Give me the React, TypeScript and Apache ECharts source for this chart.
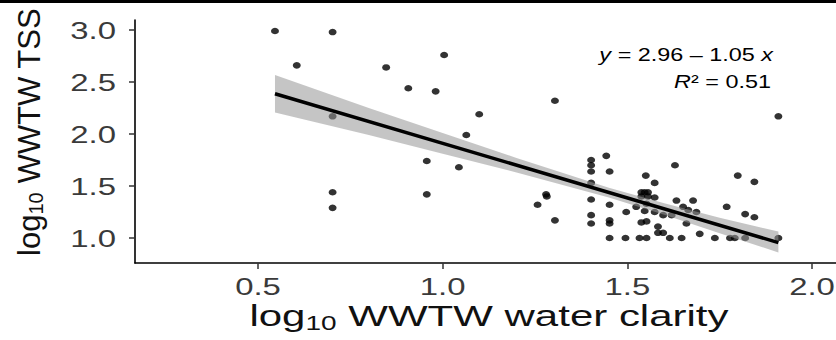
import React, { useEffect, useRef } from "react";
import * as echarts from "echarts";

// Observed points: [log10 water clarity, log10 TSS]
const pointsX = [
  0.546, 0.702, 0.605, 0.847, 1.004, 0.907, 0.981, 1.099, 1.064, 0.702, 0.957, 1.044, 0.702, 0.957, 0.702,
  1.304, 1.909,
  1.402, 1.402, 1.402, 1.443, 1.452, 1.629,
  1.402, 1.280, 1.282, 1.257, 1.304,
  1.402, 1.402, 1.402,
  1.452, 1.452, 1.452, 1.452,
  1.495, 1.497, 1.533, 1.552,
  1.550, 1.574,
  1.538, 1.547, 1.556, 1.538, 1.556, 1.574,
  1.524, 1.552, 1.547, 1.574, 1.597, 1.620,
  1.538, 1.552, 1.583, 1.583, 1.597,
  1.615, 1.647, 1.633, 1.678, 1.651, 1.665, 1.687,
  1.660, 1.696, 1.737, 1.769, 1.778, 1.791, 1.819,
  1.799, 1.844, 1.819, 1.844, 1.909,
];
const pointsY = [
  2.99, 2.98, 2.66, 2.64, 2.76, 2.44, 2.41, 2.19, 1.99, 2.17, 1.74, 1.68, 1.44, 1.42, 1.29,
  2.32, 2.17,
  1.75, 1.70, 1.64, 1.79, 1.64, 1.70,
  1.53, 1.42, 1.40, 1.32, 1.17,
  1.37, 1.22, 1.14,
  1.32, 1.17, 1.14, 1.00,
  1.00, 1.25, 1.00, 1.00,
  1.60, 1.53,
  1.44, 1.44, 1.44, 1.40, 1.40, 1.39,
  1.30, 1.33, 1.26, 1.25, 1.22, 1.22,
  1.15, 1.16, 1.11, 1.05, 1.05,
  1.00, 1.00, 1.36, 1.36, 1.30, 1.27, 1.25,
  1.14, 1.04, 1.00, 1.30, 1.00, 1.00, 1.00,
  1.60, 1.54, 1.23, 1.20, 1.00,
];

// Fitted line (y = 2.96 - 1.05 x) end points
const fitX = [0.546, 1.909];
const fitY = [2.387, 0.956];

// Confidence band
const bandX = [0.546, 0.8, 1.0, 1.2, 1.45, 1.6, 1.75, 1.909];
const bandUpper = [2.567, 2.25, 2.01, 1.77, 1.484, 1.335, 1.195, 1.062];
const bandLower = [2.207, 1.99, 1.81, 1.63, 1.39, 1.225, 1.045, 0.862];

const xTicks = [0.5, 1.0, 1.5, 2.0];
const xTickLabels = ["0.5", "1.0", "1.5", "2.0"];
const yTicks = [1.0, 1.5, 2.0, 2.5, 3.0];
const yTickLabels = ["1.0", "1.5", "2.0", "2.5", "3.0"];

const xMin = 0.167;
const xMax = 2.065;
const yMin = 0.76;
const yMax = 3.096;

const FONT = "'Liberation Sans', Arial, Helvetica, sans-serif";
const LABEL_COLOR = "#3a3a3a";

export default function App() {
  const ref = useRef<HTMLDivElement>(null);

  useEffect(() => {
    if (!ref.current) return;
    const chart = echarts.init(ref.current, undefined, { renderer: "svg" });
    const scatterData = pointsX.map((x, i) => [x, pointsY[i]]);
    const fitData = fitX.map((x, i) => [x, fitY[i]]);

    chart.setOption({
      animation: false,
      backgroundColor: "#ffffff",
      grid: { left: 135, right: 0, top: 20, bottom: 77 },
      xAxis: {
        type: "value",
        min: xMin,
        max: xMax,
        axisLine: { onZero: false, lineStyle: { color: "#000", width: 1.6 } },
        axisTick: { customValues: xTicks, length: 6, lineStyle: { color: "#333", width: 1.5 } },
        axisLabel: { show: false },
        splitLine: { show: false },
      },
      yAxis: {
        type: "value",
        min: yMin,
        max: yMax,
        axisLine: { onZero: false, lineStyle: { color: "#000", width: 1.6 } },
        axisTick: { customValues: yTicks, length: 6, lineStyle: { color: "#333", width: 1.5 } },
        axisLabel: { show: false },
        splitLine: { show: false },
      },
      series: [
        {
          type: "scatter",
          data: scatterData,
          symbol: "circle",
          symbolSize: [8, 6.5],
          itemStyle: { color: "#000" },
          z: 2,
        },
        {
          type: "custom",
          data: [[0]],
          z: 3,
          renderItem: (params: any, api: any) => {
            const up = bandX.map((x, i) => api.coord([x, bandUpper[i]]));
            const lo = bandX.map((x, i) => api.coord([x, bandLower[i]])).reverse();
            return {
              type: "polygon",
              shape: { points: up.concat(lo) },
              style: { fill: "rgba(150,150,150,0.55)" },
            };
          },
        },
        {
          type: "line",
          data: fitData,
          symbol: "none",
          lineStyle: { color: "#000", width: 3.5 },
          z: 4,
        },
        {
          // x tick labels, placed through the axis scale
          type: "custom",
          data: xTicks.map((v) => [v]),
          z: 5,
          clip: false,
          renderItem: (params: any, api: any) => {
            const p = api.coord([api.value(0), yMin]);
            return {
              type: "text",
              x: p[0],
              y: p[1] + 24,
              scaleX: 1.4,
              style: {
                text: xTickLabels[params.dataIndex],
                align: "center",
                verticalAlign: "middle",
                fontSize: 23.5,
                fontFamily: FONT,
                fill: LABEL_COLOR,
              },
            };
          },
        },
        {
          // y tick labels, placed through the axis scale
          type: "custom",
          data: yTicks.map((v) => [xMin, v]),
          z: 5,
          clip: false,
          renderItem: (params: any, api: any) => {
            const p = api.coord([xMin, api.value(1)]);
            return {
              type: "text",
              x: p[0] - 19,
              y: p[1] + 1,
              scaleX: 1.4,
              style: {
                text: yTickLabels[params.dataIndex],
                align: "right",
                verticalAlign: "middle",
                fontSize: 23.5,
                fontFamily: FONT,
                fill: LABEL_COLOR,
              },
            };
          },
        },
      ],
      graphic: [
        { type: "rect", shape: { x: 0, y: 0, width: 836, height: 3 }, style: { fill: "#000" } },
        {
          type: "text",
          x: 773,
          y: 55,
          scaleX: 1.3,
          style: {
            text: "{i|y} = 2.96 – 1.05 {i|x}",
            align: "right",
            verticalAlign: "middle",
            fontSize: 18,
            fontFamily: FONT,
            fill: "#000",
            rich: { i: { fontStyle: "italic", fontSize: 18, fontFamily: FONT } },
          },
        },
        {
          type: "text",
          x: 771,
          y: 82,
          scaleX: 1.3,
          style: {
            text: "{i|R}² = 0.51",
            align: "right",
            verticalAlign: "middle",
            fontSize: 18,
            fontFamily: FONT,
            fill: "#000",
            rich: { i: { fontStyle: "italic", fontSize: 18, fontFamily: FONT } },
          },
        },
        {
          type: "text",
          x: 489,
          y: 316,
          scaleX: 1.4,
          style: {
            text: "log{s|10} WWTW water clarity",
            align: "center",
            verticalAlign: "middle",
            fontSize: 30,
            lineHeight: 34,
            fontFamily: FONT,
            fill: "#111",
            rich: {
              s: { fontSize: 20, lineHeight: 16, verticalAlign: "bottom", fontFamily: FONT },
            },
          },
        },
        {
          type: "text",
          x: 29,
          y: 132,
          rotation: Math.PI / 2,
          style: {
            text: "log{s|10} WWTW TSS",
            align: "center",
            verticalAlign: "middle",
            fontSize: 31,
            lineHeight: 34,
            fontFamily: FONT,
            fill: "#111",
            rich: {
              s: { fontSize: 20, lineHeight: 16, verticalAlign: "bottom", fontFamily: FONT },
            },
          },
        },
      ],
    });

    return () => chart.dispose();
  }, []);

  return (
    <div
      ref={ref}
      style={{ position: "fixed", left: 0, top: 0, width: 836, height: 340 }}
    />
  );
}
